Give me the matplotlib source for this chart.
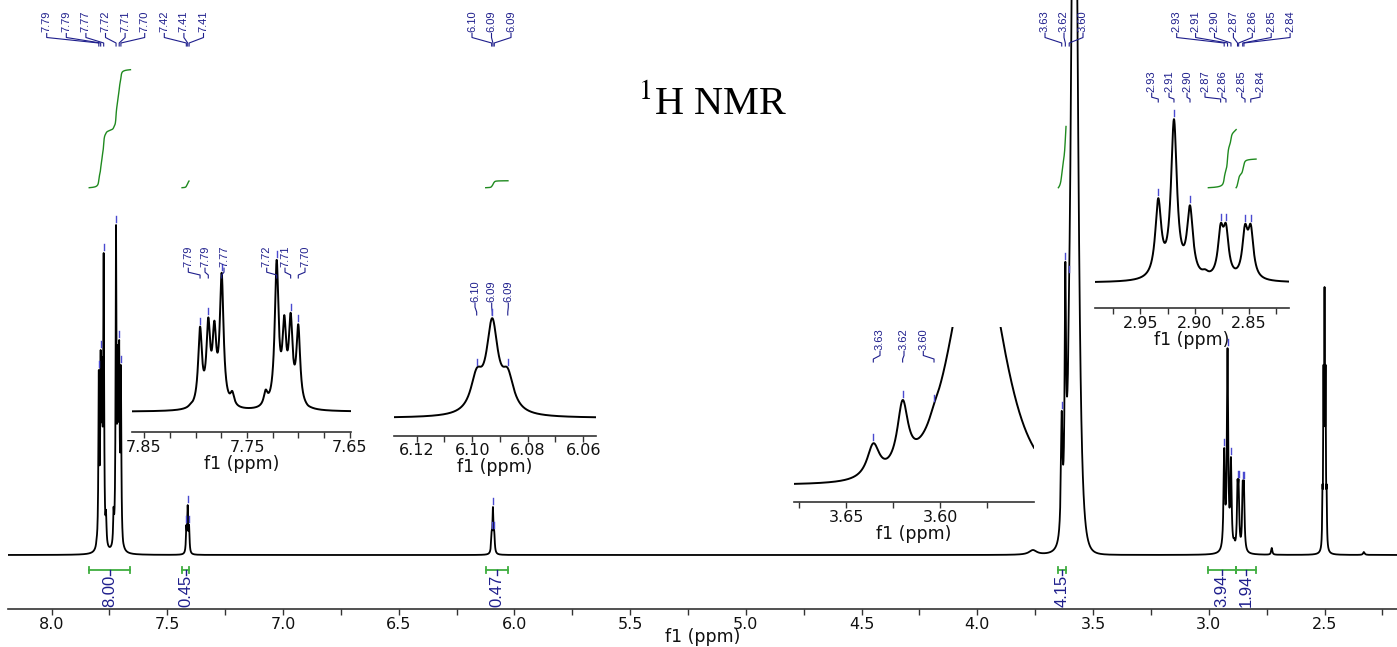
import numpy as np
import matplotlib
matplotlib.use("Agg")
import matplotlib.pyplot as plt
from matplotlib.lines import Line2D
from matplotlib import font_manager as fm

# ---------------- data ----------------
# peak groups: chemical shift (ppm), observed height (main spectrum, px above baseline), half width (ppm)
g77_ppm = [7.8050, 7.7956, 7.7876, 7.7817, 7.7746, 7.7643, 7.7319, 7.7212, 7.7138, 7.7076, 7.7002, 7.6908]
g77_h = [17, 185, 205, 198, 302, 45, 48, 330, 210, 215, 190, 14]
g77_hw = [0.0022] * 12

g742_ppm = [7.4175, 7.4115, 7.4055]
g742_h = [30, 50, 30]
g742_hw = [0.0022, 0.0022, 0.0022]

g609_ppm = [6.0984, 6.0928, 6.0872]
g609_h = [24, 48, 24]
g609_hw = [0.0026, 0.0025, 0.0026]

g36_ppm = [3.6355, 3.6199, 3.6032, 3.5805]
g36_h = [144, 293, 280, 860]
g36_hw = [0.004, 0.0035, 0.003, 0.0277]
g36_exp = [1, 1, 1, 2.4]

g29_ppm = [2.9336, 2.9191, 2.9043, 2.8904, 2.8760, 2.8711, 2.8535, 2.8482]
g29_h = [107, 207, 98, 17, 75, 75, 74, 74]
g29_hw = [0.0033, 0.0033, 0.0033, 0.0033, 0.003, 0.003, 0.003, 0.003]

g25_ppm = [2.5090, 2.5045, 2.5000, 2.4955, 2.4910]
g25_h = [70, 190, 268, 190, 70]
g25_hw = [0.0015] * 5

minor_ppm = [3.760, 2.728, 2.330]
minor_h = [5, 7, 3]
minor_hw = [0.02, 0.003, 0.004]

# peak-pick labels
lab77 = ['7.79', '7.79', '7.77', '7.72', '7.71', '7.70']
pk77 = [7.7956, 7.7876, 7.7746, 7.7212, 7.7076, 7.7002]
lab742 = ['7.42', '7.41', '7.41']
lab609 = ['6.10', '6.09', '6.09']
lab36 = ['3.63', '3.62', '3.60']
pk36 = [3.6355, 3.6199, 3.6032]
lab29 = ['2.93', '2.91', '2.90', '2.87', '2.86', '2.85', '2.84']
pk29 = [2.9336, 2.9191, 2.9043, 2.8760, 2.8711, 2.8535, 2.8482]

# integrals
int_from = [7.837, 7.436, 6.124, 3.650, 3.002, 2.882]
int_to = [7.659, 7.406, 6.028, 3.617, 2.882, 2.796]
int_value = [8.00, 0.45, 0.47, 4.15, 3.94, 1.94]
int_text = ['8.00', '0.45', '0.47', '4.15', '3.94', '1.94']

main_ticks = [8.0, 7.5, 7.0, 6.5, 6.0, 5.5, 5.0, 4.5, 4.0, 3.5, 3.0, 2.5]

# ---------------- spectrum model ----------------
P = np.array(g77_ppm + g742_ppm + g609_ppm + g36_ppm + g29_ppm + g25_ppm + minor_ppm)
Hobs = np.array(g77_h + g742_h + g609_h + g36_h + g29_h + g25_h + minor_h, float)
Wd = np.array(g77_hw + g742_hw + g609_hw + g36_hw + g29_hw + g25_hw + minor_hw)
E = np.array([1] * len(g77_ppm + g742_ppm + g609_ppm) + g36_exp + [1] * len(g29_ppm + g25_ppm + minor_ppm), float)


def shape(x, p, w, e):
    return 1.0 / (1.0 + ((x - p) / w) ** 2) ** e


Lm = shape(P[:, None], P[None, :], Wd[None, :], E[None, :])
A = np.linalg.solve(Lm, Hobs)


def spec(x):
    x = np.asarray(x, float)[..., None]
    return (A * shape(x, P, Wd, E)).sum(-1)


# ---------------- layout ----------------
W, H = 1397, 647
plt.rcParams['mathtext.fontset'] = 'stix'
names = {f.name for f in fm.fontManager.ttflist}
if 'Liberation Sans Narrow' in names:
    NARROW, PK_FS, INT_FS = 'Liberation Sans Narrow', 9, 14
else:
    NARROW, PK_FS, INT_FS = 'Liberation Sans', 8, 12

NAVY = '#1e1e8c'
MARK = '#4a4ad0'
GREEN_C = '#1f8a1f'
GREEN_B = '#3fae3f'
SPINE = '#333333'

fig = plt.figure(figsize=(W / 100, H / 100), dpi=100)


def add_px_axes(left, top, right, bottom):
    return fig.add_axes([left / W, 1 - bottom / H, (right - left) / W, (bottom - top) / H])


def style(ax, ticks, labeled, fmt, fs_tick, fs_lab, lpad):
    for s in ('top', 'left', 'right'):
        ax.spines[s].set_visible(False)
    ax.spines['bottom'].set_color(SPINE)
    ax.spines['bottom'].set_linewidth(1.2)
    ax.yaxis.set_visible(False)
    ax.set_facecolor('none')
    ax.set_xticks(ticks)
    ax.set_xticklabels([(fmt % t) if any(abs(t - l) < 1e-6 for l in labeled) else '' for t in ticks])
    ax.tick_params(axis='x', direction='out', length=4, width=1, color=SPINE,
                   labelsize=fs_tick, pad=1.5, labelcolor='#111111')
    ax.set_xlabel('f1 (ppm)', fontsize=fs_lab, labelpad=lpad, color='#111111')


def fig_line(xs, ys, **kw):
    fig.add_artist(Line2D(np.array(xs, float) / W, 1 - np.array(ys, float) / H,
                          transform=fig.transFigure, **kw))


def to_px(ax, x, y):
    d = ax.transData.transform((x, y))
    return d[0], H - d[1]


def peak_labels(ax, k, ppms, texts, lab_x, text_bottom, end_y):
    top_px = H * (1 - ax.get_position().y1)
    for p, t, lx in zip(ppms, texts, lab_x):
        fig.text(lx / W, 1 - text_bottom / H, t, rotation=90, ha='center', va='bottom',
                 fontsize=PK_FS, family=NARROW, color=NAVY)
        px, _ = to_px(ax, p, 0)
        y0 = text_bottom + 1.5
        fig_line([lx, lx, px, px], [y0, y0 + 4, end_y - 3, end_y], color=NAVY, lw=0.8)
        _, py = to_px(ax, p, k * spec([p])[0])
        if py - 10 > top_px:
            fig_line([px, px], [py - 3, py - 9], color=MARK, lw=1.0)


# ---------- main axes ----------
BASE_PX, SPINE_PX = 555.0, 609.3
ax = add_px_axes(8, 0, 1397, SPINE_PX)
ax.set_xlim(8.188, 2.187)
ax.set_ylim(-(SPINE_PX - BASE_PX), BASE_PX)
minor = np.arange(8.0, 2.2, -0.25)
style(ax, list(minor), main_ticks, '%.1f', 11.5, 12.5, -2.5)

xm = np.arange(2.187, 8.188, 0.0002)
ax.plot(xm, spec(xm), color='black', lw=1.3)

# integrals
PX_PER_UNIT = 14.75
INT_BASE = BASE_PX - 187.7
BAR_Y = -15
for hi, lo, v, t in zip(int_from, int_to, int_value, int_text):
    xs = np.linspace(hi, lo, 600)
    ys = spec(xs)
    cum = np.concatenate([[0], np.cumsum((ys[1:] + ys[:-1]) / 2)])
    cum = cum / cum[-1] * v * PX_PER_UNIT
    ax.plot(xs, INT_BASE + cum, color=GREEN_C, lw=1.0)
    ax.plot([hi, lo], [BAR_Y, BAR_Y], color=GREEN_B, lw=1.3)
    for e_ in (hi, lo):
        ax.plot([e_, e_], [BAR_Y - 3, BAR_Y + 3], color=GREEN_B, lw=1.3)
    c = (hi + lo) / 2
    ax.plot([c, c], [BAR_Y, BAR_Y - 4.5], color=NAVY, lw=1.0)
    ax.text(c, BAR_Y - 4.5, t, rotation=90, ha='center', va='top',
            fontsize=INT_FS, family=NARROW, color=NAVY)

# ---------- insets ----------
insets = [
    # rect px (l, t, r, b), xlim, baseline px, scale, ticks, labeled, fmt
    ((132, 240, 351, 432), (7.8617, 7.649), 411.7, 0.46,
     [7.85, 7.825, 7.80, 7.775, 7.75, 7.725, 7.70, 7.675, 7.65], [7.85, 7.75, 7.65], '%.2f'),
    ((394, 280, 596, 435.7), (6.1282, 6.0554), 418.0, 2.08,
     [6.12, 6.11, 6.10, 6.09, 6.08, 6.07, 6.06], [6.12, 6.10, 6.08, 6.06], '%.2f'),
    ((794, 327, 1034, 502.3), (3.6777, 3.55), 485.0, 0.29,
     [3.675, 3.65, 3.625, 3.60, 3.575], [3.65, 3.60], '%.2f'),
    ((1095, 100, 1289, 308.3), (2.992, 2.8129), 282.7, 0.79,
     [2.975, 2.95, 2.925, 2.90, 2.875, 2.85, 2.825], [2.95, 2.90, 2.85], '%.2f'),
]
inset_axes = []
for (l, t, r, b), xl, base, k, ticks, labeled, fmt in insets:
    a = add_px_axes(l, t, r, b)
    a.set_xlim(*xl)
    a.set_ylim(-(b - base), base - t)
    style(a, ticks, labeled, fmt, 11.5, 12.5, 0)
    xs = np.linspace(xl[0], xl[1], 3000)
    a.plot(xs, k * spec(xs), color='black', lw=1.4)
    inset_axes.append((a, k))

# ---------- peak labels ----------
peak_labels(ax, 1.0, pk77 + g742_ppm, lab77 + lab742,
            [46.7 + 19.6 * i for i in range(9)], 32, 46)
peak_labels(ax, 1.0, g609_ppm, lab609, [472, 491.5, 511], 32, 46)
peak_labels(ax, 1.0, pk36, lab36, [1045, 1064, 1083], 32, 46)
peak_labels(ax, 1.0, pk29, lab29, [1176.7 + 18.9 * i for i in range(7)], 32, 46)

a1, k1 = inset_axes[0]
peak_labels(a1, k1, pk77, lab77, [188.3, 205, 224, 266.7, 285, 305], 266.7, 278)
a2, k2 = inset_axes[1]
peak_labels(a2, k2, g609_ppm, lab609, [475, 491.7, 508.3], 301.7, 315)
a3, k3 = inset_axes[2]
peak_labels(a3, k3, pk36, lab36, [880, 904, 923.3], 350, 362)
a4, k4 = inset_axes[3]
peak_labels(a4, k4, pk29, lab29, [1151.7, 1169, 1187, 1205, 1222, 1241.7, 1260], 91.7, 102)

# ---------- title ----------
fig.text(713 / W, 1 - 104 / H, r'$^{1}$H NMR', fontsize=29, family='Liberation Serif',
         ha='center', va='center', color='black')

fig.savefig('out.png', dpi=100)
